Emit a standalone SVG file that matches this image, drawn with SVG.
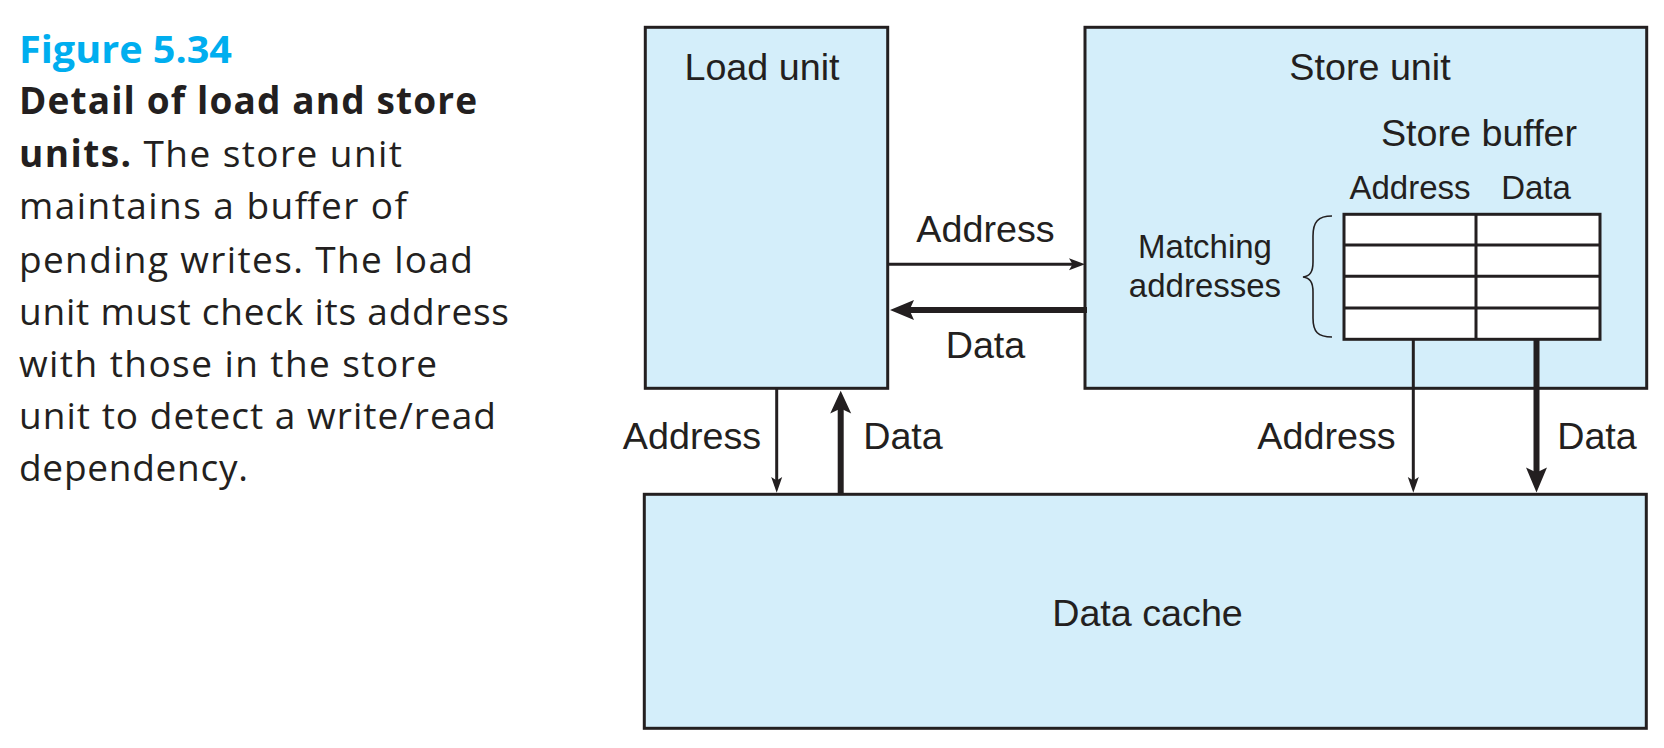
<svg xmlns="http://www.w3.org/2000/svg" width="1664" height="748" viewBox="0 0 1664 748">
  <style>
    .box { fill: #d4eefa; stroke: #231f20; stroke-width: 3; }
    .cell { fill: #ffffff; stroke: #231f20; stroke-width: 3; }
    .lbl { font-family: "Liberation Sans", Arial, sans-serif; font-size: 37.7px; fill: #231f20; }
    .sm { font-family: "Liberation Sans", Arial, sans-serif; font-size: 33px; fill: #231f20; }
    .thin { stroke: #231f20; stroke-width: 3; fill: none; }
    .thick { stroke: #231f20; stroke-width: 6; fill: none; }
    .head { fill: #231f20; stroke: none; }
    .cap { font-family: "Open Sans", "Noto Sans", sans-serif; font-size: 37px; fill: #231f20; }
    .capb { font-weight: 700; }
    .fig { font-family: "Open Sans", "Noto Sans", sans-serif; font-size: 38px; font-weight: 700; fill: #00aeef; }
  </style>

  <!-- caption -->
  <g id="caption">
    <text class="fig" x="19" y="62.7" textLength="213" lengthAdjust="spacingAndGlyphs">Figure 5.34</text>
    <text class="cap capb" x="19" y="114.3" textLength="458" lengthAdjust="spacing">Detail of load and store</text>
    <text class="cap" x="19" y="166.7" textLength="383" lengthAdjust="spacing"><tspan class="capb">units.</tspan> The store unit</text>
    <text class="cap" x="19" y="219.3" textLength="388" lengthAdjust="spacing">maintains a buffer of</text>
    <text class="cap" x="19" y="273.3" textLength="454" lengthAdjust="spacing">pending writes. The load</text>
    <text class="cap" x="19" y="325" textLength="490" lengthAdjust="spacing">unit must check its address</text>
    <text class="cap" x="19" y="376.7" textLength="418" lengthAdjust="spacing">with those in the store</text>
    <text class="cap" x="19" y="429" textLength="477" lengthAdjust="spacing">unit to detect a write/read</text>
    <text class="cap" x="19" y="480.7" textLength="229" lengthAdjust="spacing">dependency.</text>
  </g>

  <!-- load unit -->
  <g id="load-unit">
    <rect class="box" x="645.3" y="27.3" width="242.4" height="361"/>
    <text class="lbl" x="762" y="80" text-anchor="middle">Load unit</text>
  </g>

  <!-- store unit with its store buffer -->
  <g id="store-unit">
    <rect class="box" x="1085" y="27.3" width="561.7" height="361"/>
    <text class="lbl" x="1370" y="80" text-anchor="middle">Store unit</text>
    <text class="lbl" x="1479" y="145.7" text-anchor="middle">Store buffer</text>
    <text class="sm" x="1410" y="199" text-anchor="middle">Address</text>
    <text class="sm" x="1536" y="199" text-anchor="middle">Data</text>
    <text class="sm" x="1205" y="258.3" text-anchor="middle">Matching</text>
    <text class="sm" x="1205" y="296.7" text-anchor="middle">addresses</text>
    <path d="M1332,216 C1318,216 1313,222 1313,236 L1313,262 C1313,272 1310,276 1303,277 C1310,278 1313,282 1313,292 L1313,318 C1313,332 1318,337 1332,337" fill="none" stroke="#231f20" stroke-width="1.6"/>
  </g>
  <g id="store-buffer">
    <rect class="cell" x="1344" y="214.3" width="256" height="125"/>
    <line class="thin" x1="1476" y1="214.3" x2="1476" y2="339.3"/>
    <line class="thin" x1="1344" y1="245" x2="1600" y2="245"/>
    <line class="thin" x1="1344" y1="276.3" x2="1600" y2="276.3"/>
    <line class="thin" x1="1344" y1="308" x2="1600" y2="308"/>
  </g>

  <!-- data cache -->
  <g id="data-cache">
    <rect class="box" x="644.3" y="494.3" width="1002" height="234"/>
    <text class="lbl" x="1147.5" y="626" text-anchor="middle">Data cache</text>
  </g>

  <!-- connectors -->
  <g id="connectors">
    <!-- load unit -> store unit: address -->
    <line class="thin" x1="887.7" y1="264.3" x2="1074" y2="264.3"/>
    <path class="head" d="M1085,264.3 L1069,258.3 L1072.5,264.3 L1069,270.3 Z"/>
    <!-- store unit -> load unit: data -->
    <line class="thick" x1="1087" y1="310" x2="908" y2="310"/>
    <path class="head" d="M890,310 L914,300 L909.5,310 L914,320 Z"/>
    <!-- load unit -> data cache: address -->
    <line class="thin" x1="776.7" y1="388.3" x2="776.7" y2="482"/>
    <path class="head" d="M776.7,492.7 L771.2,477 L776.7,480.5 L782.2,477 Z"/>
    <!-- data cache -> load unit: data -->
    <line class="thick" x1="840.7" y1="494.3" x2="840.7" y2="408"/>
    <path class="head" d="M840.7,390.7 L830.2,413.5 L840.7,408.5 L851.2,413.5 Z"/>
    <!-- store buffer -> data cache: address -->
    <line class="thin" x1="1413.3" y1="339.3" x2="1413.3" y2="482"/>
    <path class="head" d="M1413.3,492.7 L1407.8,477 L1413.3,480.5 L1418.8,477 Z"/>
    <!-- store buffer -> data cache: data -->
    <line class="thick" x1="1536.5" y1="339.3" x2="1536.5" y2="475"/>
    <path class="head" d="M1536.5,492.5 L1526,467.5 L1536.5,472.5 L1547,467.5 Z"/>
    <!-- connector labels -->
    <text class="lbl" x="985.5" y="241.7" text-anchor="middle">Address</text>
    <text class="lbl" x="985.5" y="358.3" text-anchor="middle">Data</text>
    <text class="lbl" x="692" y="449.3" text-anchor="middle">Address</text>
    <text class="lbl" x="903" y="449.3" text-anchor="middle">Data</text>
    <text class="lbl" x="1326.5" y="449.3" text-anchor="middle">Address</text>
    <text class="lbl" x="1597" y="449.3" text-anchor="middle">Data</text>
  </g>
</svg>
